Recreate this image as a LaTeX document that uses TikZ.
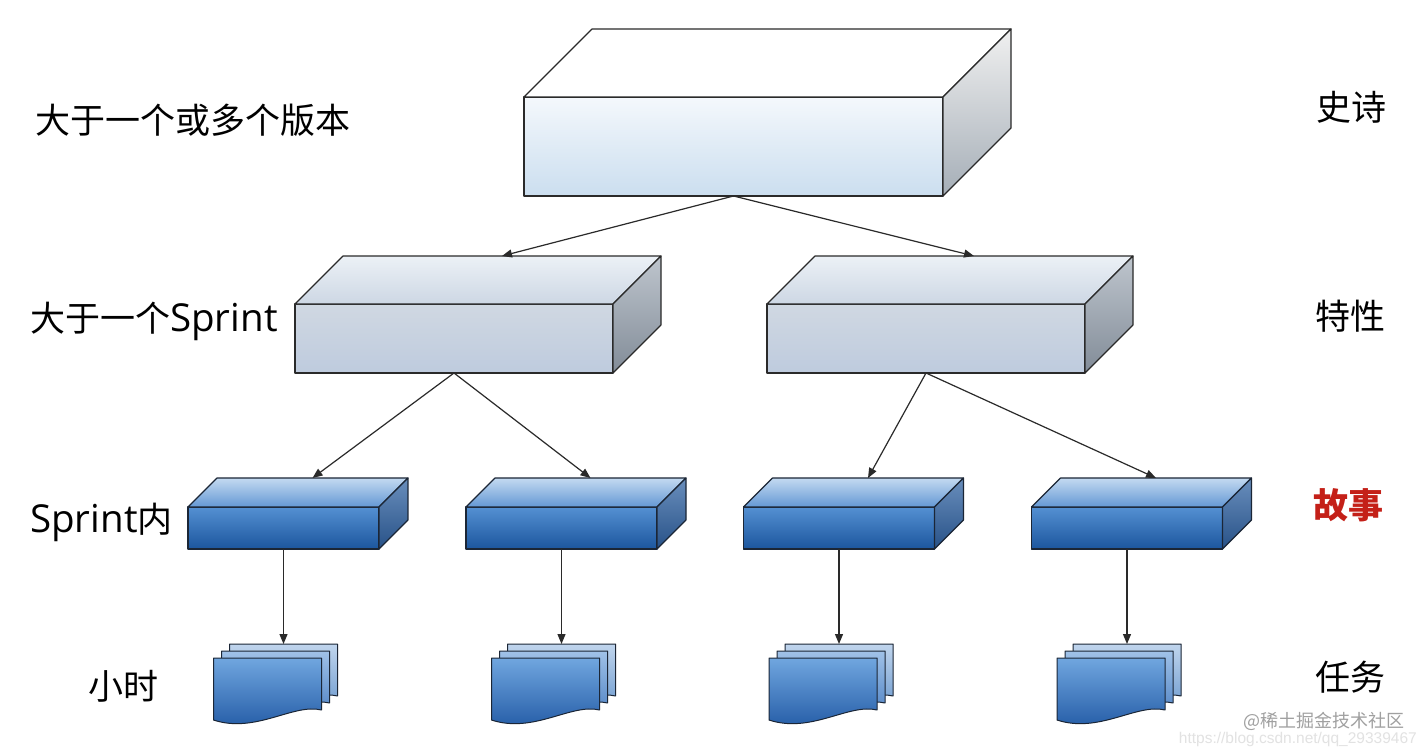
\documentclass[tikz,border=0pt]{standalone}
\usepackage{fontspec}
\setmainfont{Noto Sans CJK SC}
\newfontfamily\urlfont{Liberation Sans}
\newfontfamily\latinfont[Scale=1.1]{Open Sans}
\usetikzlibrary{arrows.meta}
\definecolor{lineC}{HTML}{2A2A2A}
\definecolor{smlLine}{HTML}{1B2636}
\definecolor{storyRed}{HTML}{C42018}
\newcommand\mybox[7]{%
  \node[#7front, minimum width=#4pt, minimum height=#5pt] (#1) at (#2,#3) {};
  \path[#7top] (#1.north west) -- ([shift={(#6,-#6)}]#1.north west) -- ([shift={(#6,-#6)}]#1.north east) -- (#1.north east) -- cycle;
  \path[#7side] (#1.north east) -- ([shift={(#6,-#6)}]#1.north east) -- ([shift={(#6,-#6)}]#1.south east) -- (#1.south east) -- cycle;
  \coordinate (#1t) at ([shift={(#6,-#6)}]#1.north);
}
\newcommand\docsheet[3]{%
  \path[#3, shift={(#1,#2)}] (0,0) -- (108,0) -- (108,52) .. controls (80,45) and (42,76) .. (0,62) -- cycle;
}
\newcommand\docstack[3]{%
  \begin{scope}[shift={(#2,#3)}]
    \docsheet{16}{0}{sheetback}
    \docsheet{8}{7}{sheetmid}
    \docsheet{0}{14}{sheetfront}
    \coordinate (#1) at (70,0);
  \end{scope}
}
\begin{document}
\begin{tikzpicture}[x=1pt,y=-1pt,
  basebox/.style={rectangle, inner sep=0pt, outer sep=0pt, line join=round},
  topfront/.style={basebox, draw=lineC, line width=1.2pt, top color={rgb,255:red,244;green,248;blue,252}, bottom color={rgb,255:red,203;green,222;blue,239}},
  toptop/.style={draw=lineC, line width=1.2pt, line join=round, fill=white},
  topside/.style={draw=lineC, line width=1.2pt, line join=round, top color={rgb,255:red,240;green,240;blue,240}, bottom color={rgb,255:red,165;green,174;blue,183}},
  midfront/.style={basebox, draw=lineC, line width=1.1pt, top color={rgb,255:red,208;green,216;blue,226}, middle color={rgb,255:red,170;green,181;blue,196}, bottom color={rgb,255:red,190;green,203;blue,222}},
  midtop/.style={draw=lineC, line width=1.1pt, line join=round, top color={rgb,255:red,236;green,241;blue,246}, bottom color={rgb,255:red,205;green,215;blue,228}},
  midside/.style={draw=lineC, line width=1.1pt, line join=round, top color={rgb,255:red,190;green,197;blue,205}, bottom color={rgb,255:red,130;green,140;blue,152}},
  smlfront/.style={basebox, draw=smlLine, line width=1.1pt, top color={rgb,255:red,84;green,144;blue,210}, bottom color={rgb,255:red,28;green,86;blue,158}},
  smltop/.style={draw=smlLine, line width=1.1pt, line join=round, top color={rgb,255:red,196;green,218;blue,241}, bottom color={rgb,255:red,100;green,152;blue,212}},
  smlside/.style={draw=smlLine, line width=1.1pt, line join=round, top color={rgb,255:red,105;green,142;blue,188}, bottom color={rgb,255:red,40;green,82;blue,136}},
  sheetfront/.style={draw=smlLine, line width=1pt, line join=round, top color={rgb,255:red,112;green,166;blue,223}, bottom color={rgb,255:red,30;green,86;blue,162}},
  sheetmid/.style={draw=smlLine, line width=1pt, line join=round, top color={rgb,255:red,160;green,194;blue,232}, bottom color={rgb,255:red,66;green,120;blue,190}},
  sheetback/.style={draw=smlLine, line width=1pt, line join=round, top color={rgb,255:red,192;green,213;blue,237}, bottom color={rgb,255:red,96;green,145;blue,202}},
  conn/.style={draw=lineC, line width=1.2pt, -{Triangle[length=10pt,width=8pt]}},
  label/.style={inner sep=0pt, font=\fontsize{35}{40}\selectfont, text=black},
]
\fill[white] (0,0) rectangle (1427,754);
\useasboundingbox (0,0) rectangle (1427,754);

% boxes
\mybox{ep}{733.5}{146.5}{419}{99}{68}{top}
\mybox{fa}{454}{338.5}{318}{69}{48}{mid}
\mybox{fb}{926}{338.5}{318}{69}{48}{mid}
\mybox{s1}{283.5}{528}{191}{42}{29}{sml}
\mybox{s2}{561.5}{528}{191}{42}{29}{sml}
\mybox{s3}{839}{528}{191}{42}{29}{sml}
\mybox{s4}{1127}{528}{191}{42}{29}{sml}

% document stacks
\docstack{d1}{213.5}{644}
\docstack{d2}{491.5}{644}
\docstack{d3}{769}{644}
\docstack{d4}{1057}{644}

% connectors
\draw[conn] (ep.south) -- (fat);
\draw[conn] (ep.south) -- (fbt);
\draw[conn] (fa.south) -- (s1t);
\draw[conn] (fa.south) -- (s2t);
\draw[conn] (fb.south) -- (s3t);
\draw[conn] (fb.south) -- (s4t);
\draw[conn] (s1.south) -- (d1);
\draw[conn] (s2.south) -- (d2);
\draw[conn] (s3.south) -- (d3);
\draw[conn] (s4.south) -- (d4);

% left labels
\node[label, anchor=west] (l1) at (35,120) {大于一个或多个版本};
\node[label, anchor=west] (l2) at (30,321) {大于一个{\latinfont Sprint}};
\node[label, anchor=west] (l3) at (30,522) {{\latinfont Sprint}内};
\node[label, anchor=west] (l4) at (88,686) {小时};

% right labels
\node[label] (r1) at (1351,107) {史诗};
\node[label] (r2) at (1350,316) {特性};
\node[label, text=storyRed, font=\fontsize{35}{40}\selectfont\bfseries] (r3) at (1348,505) {故事};
\node[label] (r4) at (1350,677) {任务};

% watermark
\node[inner sep=0pt, anchor=east, text={rgb,255:red,226;green,226;blue,226}, font=\urlfont\fontsize{15.5}{18}\selectfont] (wm2) at (1417,739) {https://blog.csdn.net/qq\_29339467};
\node[inner sep=0pt, anchor=east, text={rgb,255:red,160;green,160;blue,160}, font=\fontsize{18}{20}\selectfont] (wm1) at (1405,721) {@稀土掘金技术社区};
\end{tikzpicture}
\end{document}
